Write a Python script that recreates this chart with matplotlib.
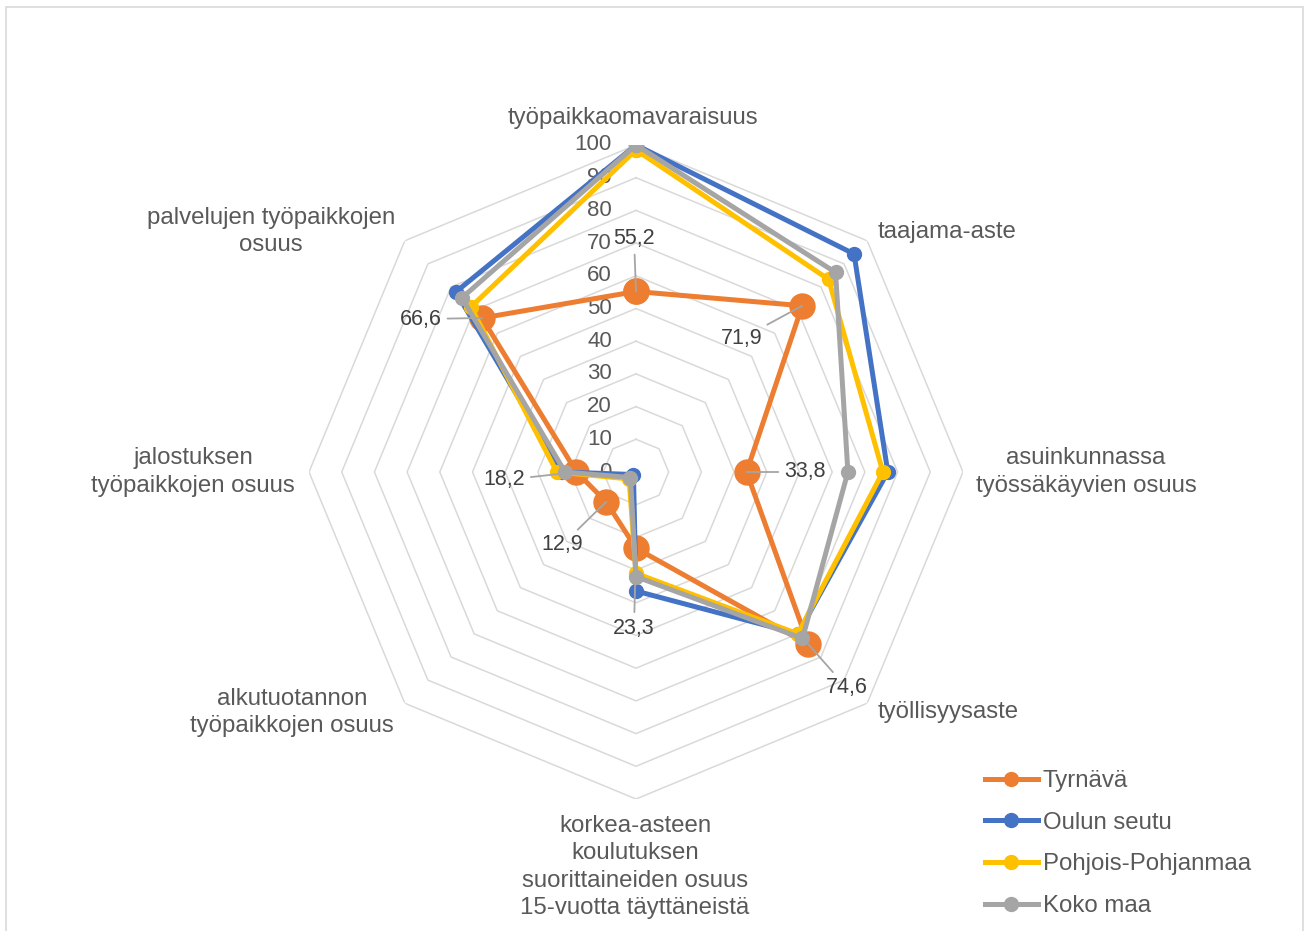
import numpy as np
import matplotlib
matplotlib.use('Agg')
import matplotlib.pyplot as plt
from matplotlib.lines import Line2D
from matplotlib.patches import Rectangle

#=================================================================
categories = ['työpaikkaomavaraisuus', 'taajama-aste',
              'asuinkunnassa\ntyössäkäyvien osuus', 'työllisyysaste',
              'korkea-asteen\nkoulutuksen\nsuorittaineiden osuus\n15-vuotta täyttäneistä',
              'alkutuotannon\ntyöpaikkojen osuus', 'jalostuksen\ntyöpaikkojen osuus',
              'palvelujen työpaikkojen\nosuus']

tyrnava = [55.2, 71.9, 33.8, 74.6, 23.3, 12.9, 18.2, 66.6]
oulun_seutu = [100.0, 94.3, 77.0, 70.0, 36.4, 1.1, 22.5, 77.9]
pohjois_pohjanmaa = [98.5, 83.3, 75.5, 70.0, 31.0, 3.0, 24.2, 71.4]
koko_maa = [100.0, 86.3, 64.8, 72.0, 32.0, 2.4, 21.7, 75.3]

series_names = ['Tyrnävä', 'Oulun seutu', 'Pohjois-Pohjanmaa', 'Koko maa']
rticks = [0, 10, 20, 30, 40, 50, 60, 70, 80, 90, 100]

#=================================================================
c_or = '#ED7D31'
c_bl = '#4472C4'
c_ye = '#FFC000'
c_gr = '#A5A5A5'
txtcol = '#595959'
gridcol = '#D9D9D9'

plt.rcParams['font.family'] = ['Liberation Sans', 'DejaVu Sans']

fig = plt.figure(figsize=(13.06, 9.31), dpi=100)
fig.patches.append(Rectangle((6/1306., -0.01), 1297/1306., 1 - 7/931. + 0.01,
                             transform=fig.transFigure, fill=False,
                             edgecolor=gridcol, linewidth=1.2))

ax = fig.add_axes([309/1306., 132/931., 654/1306., 654/931.], projection='polar')
ax.set_theta_zero_location('N')
ax.set_theta_direction(-1)
ax.set_ylim(0, 100)
ax.set_xticks([])
ax.set_yticks([])
ax.grid(False)
ax.spines['polar'].set_visible(False)
ax.patch.set_alpha(0)

n = len(categories)
ang = np.arange(n)*2*np.pi/n
ang_c = np.append(ang, ang[0])

# octagon grid
for r in rticks[1:]:
  ax.plot(ang_c, [r]*(n+1), color=gridcol, linewidth=1.1, zorder=1)

# radial tick labels
for r in rticks:
  ax.annotate(str(r), xy=(0, r), xytext=(-24, 0), textcoords='offset pixels',
              ha='right', va='center', fontsize=16, color=txtcol, zorder=2)

#=================================================================
def closed(v):
  return np.append(v, v[0])

ax.plot(ang_c, closed(tyrnava), color=c_or, linewidth=3.6, marker='o',
        markersize=18, zorder=3)
ax.plot(ang_c, closed(oulun_seutu), color=c_bl, linewidth=3.6, marker='o',
        markersize=10, zorder=4)
ax.plot(ang_c, closed(pohjois_pohjanmaa), color=c_ye, linewidth=3.6, marker='o',
        markersize=10, zorder=5)
ax.plot(ang_c, closed(koko_maa), color=c_gr, linewidth=3.6, marker='o',
        markersize=10, zorder=6)

# data labels for Tyrnävä
lab_off = [(-2, 53), (-61, -33), (58, 0), (38, -43), (-2, -80), (-44, -43), (-72, -8), (-61, -1)]
for i in range(n):
  ax.annotate(('%.1f' % tyrnava[i]).replace('.', ','), xy=(ang[i], tyrnava[i]),
              xytext=lab_off[i], textcoords='offset pixels', ha='center', va='center',
              fontsize=15.5, color='#404040', zorder=7,
              arrowprops=dict(arrowstyle='-', color=c_gr, linewidth=1.3,
                              shrinkA=2, shrinkB=0))

# category labels
cat_off = [(-3, 27), (10, 9), (123, 0), (10, -9), (-1, -68), (-113, -9), (-116, 0), (-134, 9)]
cat_ha = ['center', 'left', 'center', 'left', 'center', 'center', 'center', 'center']
for i in range(n):
  ax.annotate(categories[i], xy=(ang[i], 100), xytext=cat_off[i], textcoords='offset pixels',
              ha=cat_ha[i], va='center', multialignment='center', fontsize=17.3,
              color=txtcol, linespacing=1.32, annotation_clip=False)

#=================================================================
handles = [Line2D([], [], color=c, linewidth=3.6, marker='o', markersize=10)
           for c in [c_or, c_bl, c_ye, c_gr]]
leg = fig.legend(handles, series_names, loc='upper left', bbox_to_anchor=(985/1306., 1 - 770/931.),
                 frameon=False, fontsize=17.3, handlelength=2.2, handletextpad=0.2,
                 labelspacing=0.82, borderpad=0, borderaxespad=0)
for t in leg.get_texts():
  t.set_color(txtcol)

fig.savefig('out.png', dpi=100)
